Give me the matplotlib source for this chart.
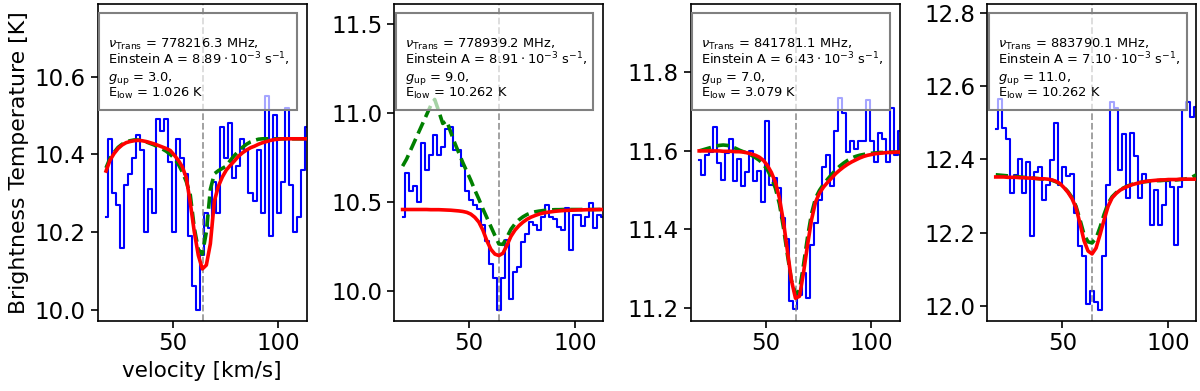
import matplotlib
matplotlib.use("Agg")
import matplotlib.pyplot as plt
from matplotlib.patches import Rectangle

# ---------------- data ----------------
velocity = [18.45, 20.35, 22.25, 24.15, 26.05, 27.95, 29.85, 31.75, 33.65, 35.55,
            37.45, 39.35, 41.25, 43.15, 45.05, 46.95, 48.85, 50.75, 52.65, 54.55,
            56.45, 58.35, 60.25, 62.15, 64.05, 65.95, 67.85, 69.75, 71.65, 73.55,
            75.45, 77.35, 79.25, 81.15, 83.05, 84.95, 86.85, 88.75, 90.65, 92.55,
            94.45, 96.35, 98.25, 100.15, 102.05, 103.95, 105.85, 107.75, 109.65, 111.55,
            113.45]
v_lsr = 64.2

obs_1 = [10.24, 10.44, 10.30, 10.27, 10.16, 10.32, 10.35, 10.39, 10.45, 10.41,
         10.20, 10.31, 10.25, 10.49, 10.46, 10.49, 10.38, 10.20, 10.44, 10.39,
         10.35, 10.19, 10.06, 10.00, 10.14, 10.25, 10.21, 10.33, 10.25, 10.47,
         10.39, 10.48, 10.34, 10.37, 10.44, 10.41, 10.30, 10.28, 10.41, 10.25,
         10.55, 10.19, 10.50, 10.25, 10.33, 10.52, 10.32, 10.20, 10.24, 10.36,
         10.47]
fit_1 = [10.357, 10.385, 10.402, 10.415, 10.424, 10.430, 10.433, 10.435, 10.436, 10.435,
         10.433, 10.430, 10.427, 10.423, 10.419, 10.415, 10.41, 10.398, 10.385, 10.368,
         10.34, 10.275, 10.20, 10.14, 10.105, 10.115, 10.17, 10.28, 10.318, 10.342,
         10.36, 10.372, 10.383, 10.395, 10.404, 10.411, 10.417, 10.421, 10.426, 10.43,
         10.433, 10.436, 10.438, 10.439, 10.44, 10.44, 10.44, 10.44, 10.44, 10.44,
         10.44]
model_1 = [10.365, 10.39, 10.405, 10.418, 10.426, 10.432, 10.435, 10.437, 10.437, 10.435,
           10.432, 10.428, 10.424, 10.419, 10.414, 10.408, 10.40, 10.39, 10.375, 10.355,
           10.33, 10.295, 10.21, 10.155, 10.143, 10.20, 10.31, 10.35, 10.358, 10.364,
           10.37, 10.385, 10.397, 10.408, 10.418, 10.426, 10.432, 10.436, 10.439, 10.44,
           10.44, 10.44, 10.44, 10.44, 10.44, 10.44, 10.44, 10.44, 10.44, 10.44,
           10.44]

obs_2 = [10.416, 10.664, 10.56, 10.59, 10.50, 10.83, 10.68, 10.76, 10.876, 10.76,
         10.81, 10.91, 10.92, 10.79, 10.79, 10.70, 10.56, 10.51, 10.48, 10.46,
         10.37, 10.28, 10.15, 10.07, 9.89, 10.07, 10.285, 9.95, 10.107, 10.135,
         10.276, 10.32, 10.388, 10.37, 10.34, 10.416, 10.48, 10.416, 10.40, 10.36,
         10.34, 10.463, 10.23, 10.425, 10.425, 10.364, 10.416, 10.49, 10.35, 10.425,
         10.416]
fit_2 = [10.456, 10.456, 10.456, 10.456, 10.456, 10.456, 10.456, 10.455, 10.455, 10.455,
         10.454, 10.453, 10.452, 10.45, 10.448, 10.445, 10.44, 10.43, 10.412, 10.385,
         10.34, 10.28, 10.232, 10.205, 10.197, 10.21, 10.255, 10.305, 10.34, 10.365,
         10.385, 10.401, 10.413, 10.422, 10.43, 10.436, 10.44, 10.443, 10.446, 10.448,
         10.45, 10.451, 10.452, 10.453, 10.454, 10.454, 10.455, 10.455, 10.455, 10.456,
         10.456]
model_2 = [10.70, 10.74, 10.79, 10.84, 10.89, 10.94, 10.99, 11.04, 11.075, 11.01,
           10.94, 10.955, 10.89, 10.83, 10.775, 10.72, 10.67, 10.62, 10.565, 10.515,
           10.46, 10.41, 10.36, 10.31, 10.262, 10.26, 10.30, 10.345, 10.375, 10.398,
           10.415, 10.428, 10.437, 10.443, 10.447, 10.45, 10.452, 10.454, 10.455, 10.455,
           10.456, 10.456, 10.456, 10.456, 10.456, 10.456, 10.456, 10.456, 10.456, 10.456,
           10.456]

obs_3 = [11.577, 11.539, 11.59, 11.598, 11.66, 11.57, 11.526, 11.594, 11.63, 11.524,
         11.58, 11.51, 11.547, 11.60, 11.524, 11.55, 11.469, 11.675, 11.514, 11.53,
         11.505, 11.43, 11.375, 11.217, 11.197, 11.234, 11.29, 11.225, 11.36, 11.416,
         11.475, 11.56, 11.59, 11.51, 11.65, 11.734, 11.696, 11.598, 11.624, 11.605,
         11.624, 11.624, 11.73, 11.624, 11.573, 11.645, 11.63, 11.573, 11.708, 11.59,
         11.65]
fit_3 = [11.600, 11.600, 11.600, 11.600, 11.600, 11.600, 11.599, 11.599, 11.599, 11.598,
         11.598, 11.597, 11.595, 11.592, 11.589, 11.584, 11.576, 11.563, 11.545, 11.52,
         11.48, 11.42, 11.345, 11.27, 11.225, 11.23, 11.29, 11.36, 11.425, 11.47,
         11.493, 11.508, 11.52, 11.531, 11.542, 11.551, 11.559, 11.566, 11.572, 11.577,
         11.582, 11.586, 11.589, 11.591, 11.593, 11.594, 11.595, 11.596, 11.596, 11.597,
         11.597]
model_3 = [11.600, 11.603, 11.606, 11.609, 11.612, 11.614, 11.615, 11.614, 11.611, 11.607,
           11.602, 11.598, 11.594, 11.589, 11.583, 11.576, 11.566, 11.552, 11.532, 11.505,
           11.465, 11.405, 11.335, 11.27, 11.235, 11.245, 11.31, 11.38, 11.44, 11.48,
           11.50, 11.515, 11.528, 11.54, 11.551, 11.561, 11.569, 11.576, 11.582, 11.586,
           11.589, 11.591, 11.593, 11.594, 11.595, 11.596, 11.596, 11.597, 11.597, 11.597,
           11.597]

obs_4 = [12.482, 12.566, 12.485, 12.455, 12.307, 12.357, 12.40, 12.307, 12.394, 12.19,
         12.366, 12.38, 12.289, 12.33, 12.398, 12.498, 12.33, 12.38, 12.355, 12.36,
         12.253, 12.164, 12.135, 12.005, 12.042, 12.01, 11.99, 12.135, 12.33, 12.557,
         12.54, 12.37, 12.47, 12.294, 12.473, 12.41, 12.294, 12.36, 12.34, 12.22,
         12.316, 12.22, 12.275, 12.34, 12.325, 12.166, 12.325, 12.535, 12.557, 12.516,
         12.544]
fit_4 = [12.352, 12.352, 12.352, 12.351, 12.351, 12.351, 12.350, 12.350, 12.349, 12.349,
         12.348, 12.347, 12.347, 12.346, 12.344, 12.340, 12.334, 12.323, 12.310, 12.293,
         12.268, 12.225, 12.178, 12.150, 12.142, 12.158, 12.195, 12.235, 12.272, 12.295,
         12.307, 12.316, 12.322, 12.327, 12.331, 12.334, 12.337, 12.339, 12.341, 12.342,
         12.343, 12.344, 12.344, 12.345, 12.345, 12.345, 12.346, 12.346, 12.346, 12.346,
         12.346]
model_4 = [12.358, 12.357, 12.356, 12.355, 12.354, 12.353, 12.352, 12.351, 12.350, 12.349,
           12.348, 12.347, 12.346, 12.345, 12.343, 12.339, 12.333, 12.324, 12.312, 12.296,
           12.272, 12.235, 12.195, 12.175, 12.172, 12.185, 12.215, 12.25, 12.28, 12.298,
           12.309, 12.317, 12.323, 12.328, 12.332, 12.335, 12.337, 12.339, 12.340, 12.341,
           12.342, 12.342, 12.343, 12.343, 12.344, 12.344, 12.345, 12.346, 12.348, 12.352,
           12.358]

nu_trans = ["778216.3", "778939.2", "841781.1", "883790.1"]
einstein_a = ["8.89", "8.91", "6.43", "7.10"]
g_up = ["3.0", "9.0", "7.0", "11.0"]
e_low = ["1.026", "10.262", "3.079", "10.262"]

ylims = [(9.972, 10.787), (9.831, 11.612), (11.168, 11.974), (11.96, 12.824)]
yticks = [[10.0, 10.2, 10.4, 10.6], [10.0, 10.5, 11.0, 11.5],
          [11.2, 11.4, 11.6, 11.8], [12.0, 12.2, 12.4, 12.6, 12.8]]
xticks = [50, 100]

obs_all = [obs_1, obs_2, obs_3, obs_4]
fit_all = [fit_1, fit_2, fit_3, fit_4]
model_all = [model_1, model_2, model_3, model_4]

# ---------------- plot ----------------
plt.rcParams['font.family'] = ['DejaVu Sans']
fig, axes = plt.subplots(1, 4, figsize=(12, 3.91), dpi=100)
fig.subplots_adjust(left=0.0814, right=0.997, bottom=0.18, top=0.9898, wspace=0.419)

line_y = [0.862, 0.809, 0.756, 0.705]

for k, ax in enumerate(axes):
    ax.step(velocity, obs_all[k], where='mid', color='blue', lw=1.5, zorder=2)
    ax.axvline(v_lsr, color='gray', ls='--', lw=1.3, alpha=0.8, zorder=2.5)
    ax.plot(velocity, model_all[k], color='green', ls='--', lw=2.6,
            dashes=(3.4, 1.6), zorder=3)
    ax.plot(velocity, fit_all[k], color='red', lw=2.6, zorder=4)
    ax.set_xlim(14.5, 113.45)
    ax.set_ylim(*ylims[k])
    ax.set_xticks(xticks)
    ax.set_yticks(yticks[k])
    ax.tick_params(labelsize=16.5, width=1.2, length=5)
    for s in ax.spines.values():
        s.set_linewidth(1.2)
    rect = Rectangle((0.006, 0.666), 0.947, 0.306, transform=ax.transAxes,
                     facecolor=(1, 1, 1, 0.65), edgecolor=(0.5, 0.5, 0.5),
                     lw=1.5, zorder=5)
    ax.add_patch(rect)
    lines = [r"$\nu_\mathrm{Trans}$ = " + nu_trans[k] + " MHz,",
             r"Einstein A = $" + einstein_a[k] + r"\cdot10^{-3}$ s$^{-1}$,",
             r"$g_\mathrm{up}$ = " + g_up[k] + ",",
             r"E$_\mathrm{low}$ = " + e_low[k] + " K"]
    for ln, yy in zip(lines, line_y):
        ax.text(0.05, yy, ln, transform=ax.transAxes, fontsize=9.4,
                va='baseline', ha='left', zorder=6)

axes[0].set_ylabel("Brightness Temperature [K]", fontsize=15.8)
axes[0].set_xlabel("velocity [km/s]", fontsize=15.5)

fig.savefig("out.png", dpi=100)
